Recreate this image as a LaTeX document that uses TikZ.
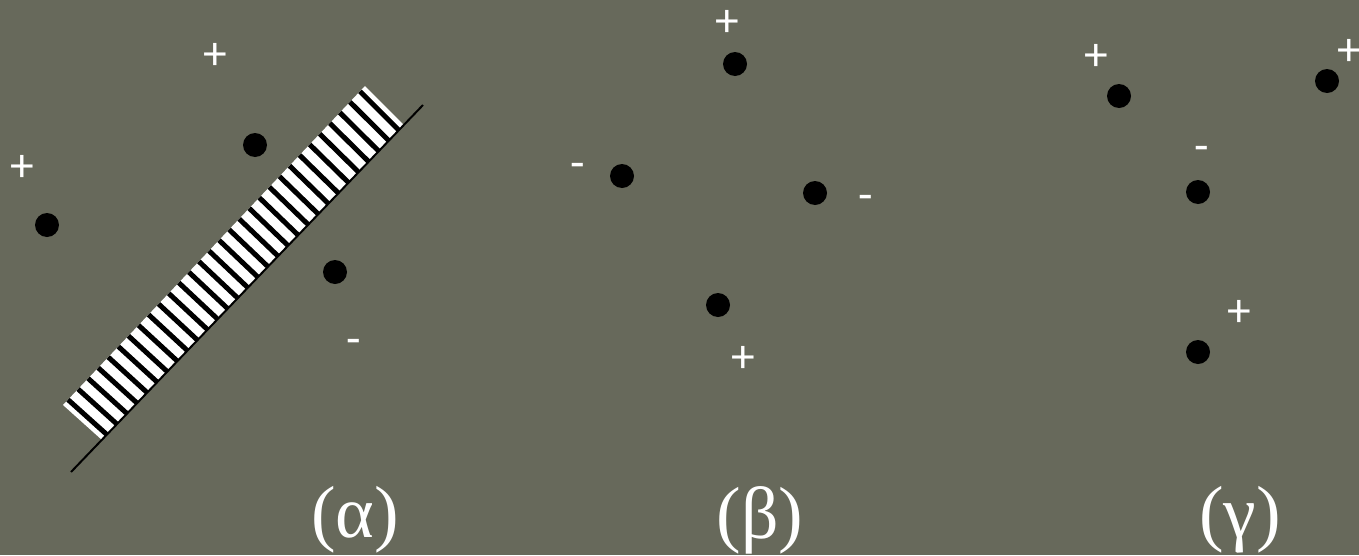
\documentclass[tikz,border=0pt]{standalone}
\usepackage{fontspec}
\usepackage{tikz}
\usetikzlibrary{calc}
\newfontfamily\signfont{Carlito}
\newfontfamily\capfont{Liberation Serif}
\definecolor{bgolive}{RGB}{103,105,91}

\begin{document}
\begin{tikzpicture}[x=0.02cm, y=-0.02cm,
      pt/.style={circle, fill=black, inner sep=0pt, minimum size=0.48cm},
      sg/.style={text=white, font=\signfont\fontsize{27}{29}\selectfont, inner sep=0pt},
      capt/.style={text=white, font=\capfont\fontsize{42}{46}\selectfont, inner sep=0pt},
      strp/.style={black, line width=0.1cm}]
    \fill[bgolive] (0,0) rectangle (1359,555);
    \useasboundingbox (0,0) rectangle (1359,555);
    % (alpha): hatched band and line
    \coordinate (bl) at (63,405); \coordinate (tl) at (365,86);
    \coordinate (tr) at (404,125); \coordinate (br) at (102,440);
    \fill[white] (bl) -- (tl) -- (tr) -- (br) -- cycle;
    \foreach \t [evaluate=\t as \f using (\t+0.5)/30] in {0,...,29}
      \draw[strp] ($(bl)!\f!(tl)$) -- ($(br)!\f!(tr)$);
    \coordinate (l0) at (71,472); \coordinate (l1) at (423,105);
    \draw[black, line width=0.04cm] (l0) -- (l1);
    \node[pt] (a1) at (255,145) {};
    \node[pt] (a2) at (47,225) {};
    \node[pt] (a3) at (335,272) {};
    \node[sg] (sa1) at (215,56) {+};
    \node[sg] (sa2) at (22,168) {+};
    \node[sg] (sa3) at (354,347) {-};
    \node[capt] (ca) at (355,520) {(α)};
    % (beta)
    \node[pt] (b1) at (735,64) {};
    \node[pt] (b2) at (622,176) {};
    \node[pt] (b3) at (815,193) {};
    \node[pt] (b4) at (718,305) {};
    \node[sg] (sb1) at (727,23) {+};
    \node[sg] (sb2) at (578,171) {-};
    \node[sg] (sb3) at (866,203) {-};
    \node[sg] (sb4) at (743,359) {+};
    \node[capt] (cb) at (760,520) {(β)};
    % (gamma)
    \node[pt] (c1) at (1119,96) {};
    \node[pt] (c2) at (1327,81) {};
    \node[pt] (c3) at (1198,192) {};
    \node[pt] (c4) at (1198,352) {};
    \node[sg] (sc1) at (1096,57) {+};
    \node[sg] (sc2) at (1349,52) {+};
    \node[sg] (sc3) at (1202,154) {-};
    \node[sg] (sc4) at (1239,313) {+};
    \node[capt] (cc) at (1240,520) {(γ)};
\end{tikzpicture}
\end{document}
